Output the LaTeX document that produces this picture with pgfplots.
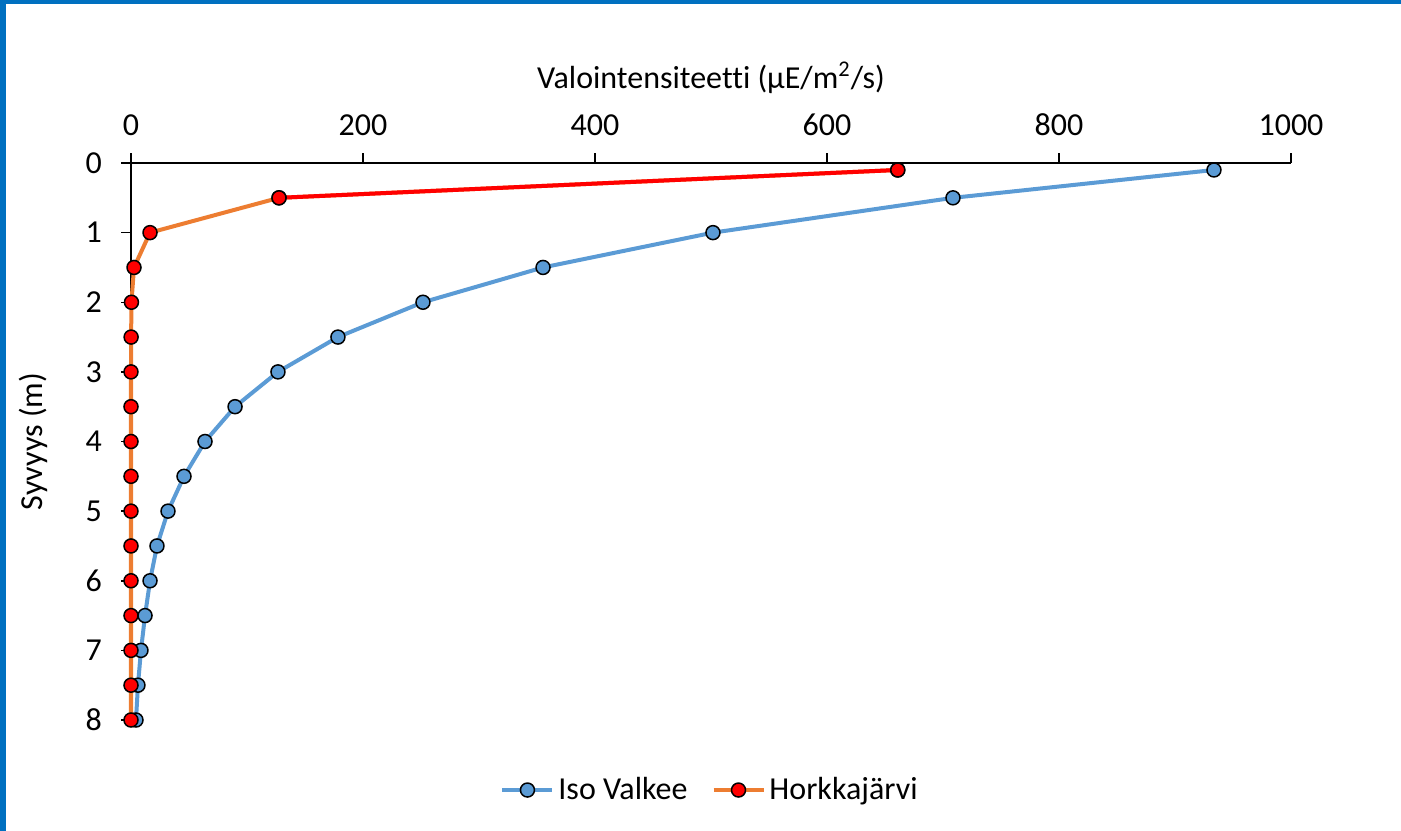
\documentclass[border=0pt]{standalone}
\usepackage{pgfplots}
\pgfplotsset{compat=1.18}
\usepackage{fontspec}
\setmainfont{Carlito}[Ligatures=NoCommon]
\definecolor{isoblue}{HTML}{5B9BD5}
\definecolor{horkorange}{HTML}{ED7D31}
\definecolor{horkred}{HTML}{FF0000}
\definecolor{frameblue}{HTML}{0070C0}

% Light intensity profiles (depth in m, intensity in uE/m2/s)
\pgfplotstableread{
depth intensity
0.1 933.6
0.5 708.6
1.0 501.7
1.5 355.2
2.0 251.7
2.5 178.4
3.0 126.7
3.5 89.7
4.0 63.8
4.5 45.7
5.0 31.9
5.5 22.4
6.0 16.4
6.5 12.1
7.0 8.6
7.5 6.0
8.0 4.3
}\isovalkee

\pgfplotstableread{
depth intensity
0.1 661.0
0.5 127.6
1.0 16.4
1.5 2.6
2.0 0.4
2.5 0.1
3.0 0.0
3.5 0.0
4.0 0.0
4.5 0.0
5.0 0.0
5.5 0.0
6.0 0.0
6.5 0.0
7.0 0.0
7.5 0.0
8.0 0.0
}\horkka

% surface segment of Horkkajarvi, drawn in red
\pgfplotstableread{
depth intensity
0.1 661.0
0.5 127.6
}\horkkatop

\begin{document}
\begin{tikzpicture}
\path[use as bounding box] (0,0) rectangle (700.5bp,-415.5bp);
\fill[frameblue] (0,0) rectangle (3bp,-415.5bp);
\fill[frameblue] (0,0) rectangle (700.5bp,-2bp);
\begin{axis}[
  at={(65.5bp,-81.5bp)}, anchor=north west,
  scale only axis, width=580bp, height=278.5bp,
  xmin=0, xmax=1000, ymin=0, ymax=8,
  y dir=reverse,
  axis x line*=top, axis y line*=left,
  xticklabel pos=top,
  xtick={0,200,...,1000}, ytick={0,1,...,8},
  tick align=outside, major tick length=5bp,
  axis line style={black, line width=0.75bp},
  tick style={black, line width=0.75bp},
  /pgf/number format/assume math mode=true,
  /pgf/number format/1000 sep={},
  tick label style={font=\fontsize{16bp}{19bp}\selectfont},
  xticklabel style={yshift=5bp},
  yticklabel style={xshift=-6bp},
  label style={font=\fontsize{16bp}{19bp}\selectfont},
  xlabel={Valointensiteetti (µE/m\textsuperscript{2}/s)},
  ylabel={Syvyys (m)},
  xlabel style={at={(axis description cs:0.5,1.1526)}, anchor=center},
  ylabel style={at={(axis description cs:-0.0845,0.5)}, anchor=center},
  clip=false,
  legend style={at={(axis description cs:0.5,-0.1257)}, anchor=center,
    draw=none, fill=none, legend columns=2,
    font=\fontsize{16bp}{19bp}\selectfont,
    /tikz/every even column/.append style={column sep=10bp}},
  legend image code/.code={
    \draw[#1, mark=none] (0bp,0bp) -- (25bp,0bp);
    \draw[#1, only marks] plot coordinates {(12.5bp,0bp)};
  },
]
\addplot[color=isoblue, line width=2bp, mark=*, mark size=3.5bp,
  mark options={fill=isoblue, draw=black, line width=0.75bp}]
  table[x=intensity, y=depth] {\isovalkee};
\addlegendentry{Iso Valkee}
\addplot[color=horkorange, line width=2bp, mark=*, mark size=3.5bp,
  mark options={fill=horkred, draw=black, line width=0.75bp}]
  table[x=intensity, y=depth] {\horkka};
\addlegendentry{Horkkajärvi}
\addplot[color=horkred, line width=2bp, mark=*, mark size=3.5bp,
  mark options={fill=horkred, draw=black, line width=0.75bp}, forget plot]
  table[x=intensity, y=depth] {\horkkatop};
\end{axis}
\end{tikzpicture}
\end{document}
